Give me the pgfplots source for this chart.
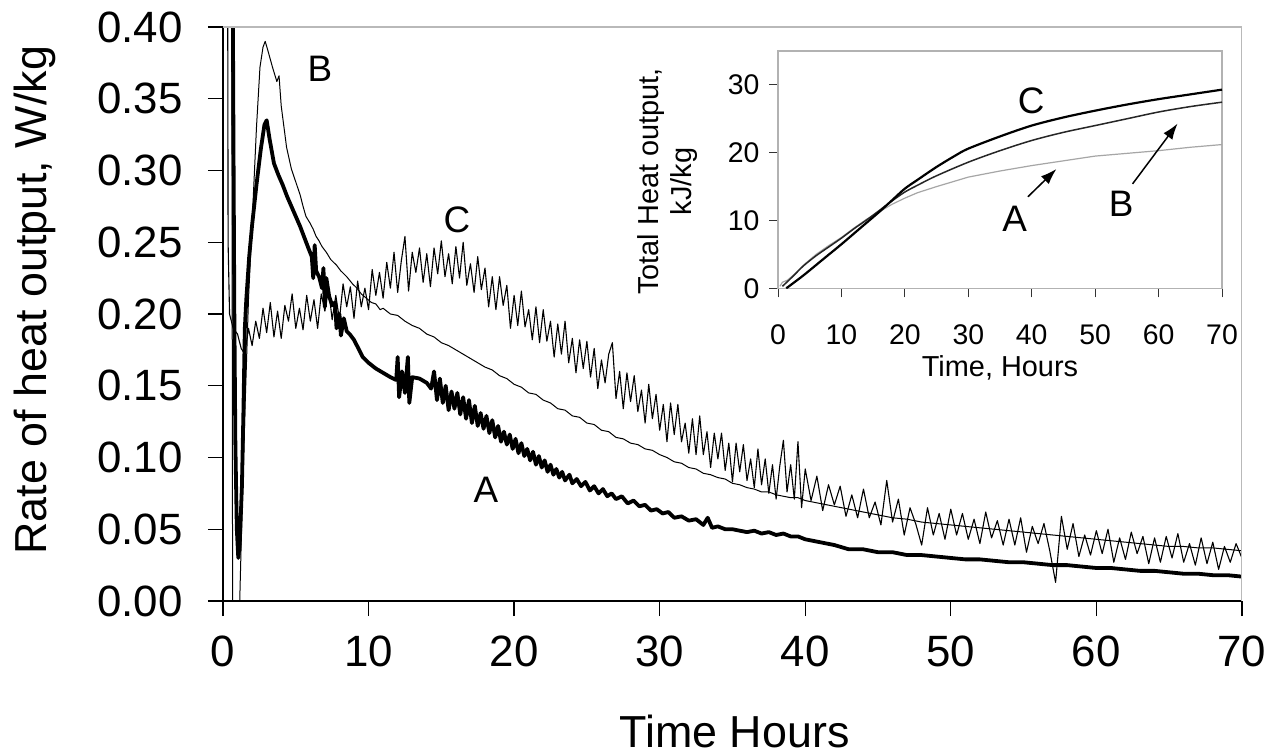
\documentclass[border=0pt]{standalone}
\usepackage{fontspec}
\setmainfont{Liberation Sans}
\usepackage{pgfplots}
\pgfplotsset{compat=1.18}
\usetikzlibrary{arrows.meta}
\begin{document}
\begin{tikzpicture}
\begin{axis}[
  at={(0,0)}, anchor=south west,
  width=1019bp, height=574bp, scale only axis,
  xmin=0, xmax=70, ymin=0, ymax=0.4,
  axis lines*=left,
  axis line style={black, line width=1.3bp},
  xtick={0,10,20,30,40,50,60,70},
  ytick={0,0.05,0.1,0.15,0.2,0.25,0.3,0.35,0.4},
  scaled y ticks=false,
  tick align=outside, major tick length=15bp,
  tick style={black, line width=1.3bp},
  /pgf/number format/assume math mode=true,
  y tick label style={/pgf/number format/fixed, /pgf/number format/fixed zerofill, /pgf/number format/precision=2, xshift=-22bp},
  x tick label style={yshift=-16bp},
  tick label style={font=\fontsize{44}{48}\selectfont},
  xlabel={Time Hours}, ylabel={Rate of heat output, W/kg},
  label style={font=\fontsize{45}{50}\selectfont, inner sep=0pt},
  xlabel style={at={(rel axis cs:0.502,-0.228)}, anchor=center},
  ylabel style={at={(rel axis cs:-0.1845,0.524)}, anchor=center},
]
% C
\addplot[black, line width=1.1bp, line join=round] coordinates {
(0.32,0.45)(0.35,0.25)(0.45,0.20)(0.7,0.19)(1.0,0.186)(1.25,0.176)
(1.5,0.172)(1.75,0.190)(2.0,0.178)(2.25,0.195)(2.5,0.183)(2.75,0.204)(3.0,0.187)(3.25,0.208)(3.5,0.184)(3.75,0.202)(4.0,0.183)(4.25,0.206)(4.5,0.195)(4.75,0.214)(5.0,0.190)(5.25,0.204)(5.5,0.189)(5.75,0.213)(6.0,0.195)(6.25,0.210)(6.5,0.190)(6.75,0.214)(7.0,0.202)(7.25,0.218)(7.5,0.196)(7.75,0.213)(8.0,0.196)(8.25,0.221)(8.5,0.205)(8.75,0.219)(9.0,0.197)(9.25,0.223)(9.5,0.205)(9.75,0.218)(10.0,0.203)
(10.25,0.231)(10.5,0.213)(10.75,0.229)(11.0,0.211)(11.25,0.236)(11.5,0.218)(11.75,0.243)(12.0,0.215)(12.25,0.237)(12.5,0.254)(12.75,0.216)(13.0,0.243)(13.25,0.229)(13.5,0.246)(13.75,0.222)(14.0,0.242)(14.25,0.219)(14.5,0.246)(14.75,0.228)(15.0,0.251)(15.25,0.226)(15.5,0.242)(15.75,0.221)(16.0,0.247)(16.25,0.225)(16.5,0.250)(16.75,0.220)(17.0,0.235)(17.25,0.215)(17.5,0.240)(17.75,0.217)(18.0,0.232)(18.25,0.205)(18.5,0.226)(18.75,0.203)(19.0,0.226)(19.25,0.206)(19.5,0.220)(19.75,0.190)(20.0,0.213)(20.25,0.192)(20.5,0.216)(20.75,0.191)(21.0,0.203)(21.25,0.182)(21.5,0.205)(21.75,0.180)(22.0,0.203)(22.25,0.181)(22.5,0.195)(22.75,0.170)(23.0,0.193)(23.25,0.172)(23.5,0.195)(23.75,0.166)(24.0,0.183)(24.25,0.159)(24.5,0.182)(24.75,0.162)(25.0,0.181)
(25.25,0.156)(25.5,0.176)(25.75,0.148)(26.0,0.168)(26.25,0.152)(26.5,0.172)(26.75,0.180)(27.0,0.141)(27.25,0.160)(27.5,0.134)(27.75,0.159)(28.0,0.139)(28.25,0.157)(28.5,0.132)(28.75,0.147)(29.0,0.124)(29.25,0.151)(29.5,0.127)(29.75,0.144)(30.0,0.119)(30.25,0.137)(30.5,0.111)(30.75,0.138)(31.0,0.116)(31.25,0.137)(31.5,0.111)(31.75,0.124)(32.0,0.103)(32.25,0.127)(32.5,0.102)(32.75,0.129)(33.0,0.102)(33.25,0.118)(33.5,0.093)(33.75,0.117)(34.0,0.099)(34.25,0.117)(34.5,0.091)(34.75,0.110)(35.0,0.083)(35.25,0.110)(35.5,0.090)(35.75,0.109)(36.0,0.084)(36.25,0.099)(36.5,0.079)(36.75,0.106)(37.0,0.081)(37.25,0.099)(37.5,0.075)(37.75,0.095)(38.0,0.071)(38.25,0.094)(38.5,0.112)(38.75,0.076)(39.0,0.095)(39.25,0.071)(39.5,0.111)(39.75,0.065)(40.0,0.092)
(40.4,0.070)(40.8,0.087)(41.2,0.063)(41.6,0.081)(42.0,0.067)(42.4,0.080)(42.8,0.059)(43.2,0.074)(43.6,0.058)(44.0,0.078)(44.4,0.058)(44.8,0.069)(45.2,0.053)(45.6,0.084)(46.0,0.055)(46.4,0.071)(46.8,0.046)(47.2,0.065)(47.6,0.0535)(48.0,0.039)(48.4,0.065)(48.8,0.046)(49.2,0.061)(49.6,0.043)(50.0,0.064)(50.4,0.046)(50.8,0.061)(51.2,0.043)(51.6,0.057)(52.0,0.040)(52.4,0.062)(52.8,0.044)(53.2,0.056)(53.6,0.039)(54.0,0.057)(54.4,0.039)(54.8,0.058)(55.2,0.034)(55.6,0.052)(56.0,0.040)(56.4,0.054)(56.8,0.035)(57.2,0.013)(57.6,0.059)(58.0,0.036)(58.4,0.054)(58.8,0.031)(59.2,0.046)(59.6,0.032)(60.0,0.049)(60.4,0.033)(60.8,0.050)(61.2,0.027)(61.6,0.044)(62.0,0.029)(62.4,0.048)(62.8,0.033)(63.2,0.045)(63.6,0.026)(64.0,0.044)(64.4,0.027)(64.8,0.045)(65.2,0.030)(65.6,0.047)(66.0,0.027)(66.4,0.040)(66.8,0.025)(67.2,0.044)(67.6,0.026)(68.0,0.041)(68.4,0.022)(68.8,0.038)(69.2,0.027)(69.6,0.040)(70.0,0.030)
};
% B
\addplot[black, line width=1.0bp, line join=round] coordinates {
(0.60,0.45)(0.66,0.0)(1.15,0.0)(1.3,0.06)(1.5,0.13)(1.75,0.21)(2.07,0.279)(2.3,0.33)(2.54,0.372)(2.75,0.386)(2.9,0.390)(3.1,0.383)(3.4,0.372)(3.7,0.362)(3.85,0.366)(4.0,0.345)(4.37,0.316)(4.7,0.301)(5.0,0.292)(5.3,0.283)(5.5,0.275)(5.7,0.268)(6.0,0.263)(6.2,0.259)(6.4,0.254)(6.6,0.251)(6.8,0.247)(7.1,0.243)(7.4,0.238)(7.8,0.234)(8.1,0.230)(8.5,0.226)(8.9,0.221)(9.2,0.218)(9.5,0.214)(9.85,0.211)(10.2,0.208)(10.5,0.207)(10.8,0.203)(11.0,0.204)(11.5,0.200)(12.0,0.199)(12.5,0.195)(13.0,0.192)(13.5,0.190)(14.0,0.186)(14.5,0.184)(15.0,0.180)(15.5,0.178)(16.0,0.175)(16.5,0.172)(17.0,0.169)(17.5,0.166)(18.0,0.163)(18.5,0.161)(19.0,0.157)(19.5,0.155)(20.0,0.151)(20.5,0.149)(21.0,0.145)(21.5,0.144)(22.0,0.140)(22.5,0.138)(23.0,0.134)(23.5,0.133)(24.0,0.129)(24.5,0.128)(25.0,0.124)(25.5,0.123)(26.0,0.119)(26.5,0.118)(27.0,0.114)(27.5,0.113)(28.0,0.110)(28.5,0.109)(29.0,0.106)(29.5,0.105)(30.0,0.102)(30.5,0.100)(31.0,0.097)(31.5,0.096)(32.0,0.093)(32.5,0.092)(33.0,0.089)(33.5,0.088)(34.0,0.086)(34.5,0.085)(35.0,0.082)(35.5,0.081)(36.0,0.079)(36.5,0.078)(37.0,0.076)(37.5,0.076)(38.0,0.074)(38.5,0.073)(39.0,0.072)(39.5,0.072)(40.0,0.070)(41,0.068)(42,0.066)(43,0.064)(44,0.062)(45,0.060)(46,0.058)(47,0.057)(48,0.055)(49,0.054)(50,0.053)(51,0.052)(52,0.051)(53,0.050)(54,0.049)(55,0.048)(56,0.047)(57,0.046)(58,0.045)(59,0.044)(60,0.043)(61,0.042)(62,0.041)(63,0.040)(64,0.039)(65,0.038)(66,0.038)(67,0.037)(68,0.037)(69,0.036)(70,0.035)
};
% A
\addplot[black, line width=3.8bp, line join=round] coordinates {
(0.66,0.45)(0.72,0.32)(0.78,0.20)(0.85,0.11)(0.95,0.05)(1.05,0.03)(1.15,0.04)(1.3,0.08)(1.4,0.13)(1.5,0.19)(1.6,0.21)(1.8,0.24)(2.0,0.262)(2.3,0.29)(2.6,0.315)(2.85,0.332)(3.0,0.335)(3.2,0.322)(3.5,0.305)(3.8,0.297)(4.1,0.290)(4.4,0.282)(4.7,0.275)(5.0,0.268)(5.3,0.261)(5.6,0.253)(5.9,0.245)(6.1,0.240)(6.2,0.225)(6.3,0.248)(6.4,0.230)(6.6,0.226)(6.8,0.218)(6.9,0.232)(7.0,0.205)(7.1,0.225)(7.3,0.212)(7.5,0.206)(7.7,0.208)(7.8,0.190)(8.0,0.200)(8.1,0.185)(8.3,0.197)(8.5,0.188)(8.7,0.186)(9.0,0.182)(9.3,0.176)(9.6,0.170)(10.0,0.166)(10.5,0.162)(11.0,0.159)(11.5,0.156)(11.9,0.154)(12.0,0.170)(12.1,0.142)(12.3,0.160)(12.5,0.145)(12.7,0.170)(12.8,0.138)(13.0,0.156)(13.5,0.155)(14.0,0.152)(14.3,0.148)(14.5,0.160)(14.7,0.140)(14.9,0.155)(15.1,0.138)(15.3,0.150)(15.5,0.133)(15.7,0.146)(15.9,0.134)(16.1,0.145)(16.3,0.130)(16.5,0.142)(16.7,0.127)(16.9,0.140)(17.1,0.124)(17.3,0.136)(17.5,0.122)(17.7,0.131)(17.9,0.120)(18.1,0.129)(18.3,0.117)(18.5,0.126)(18.7,0.114)(18.9,0.122)(19.1,0.111)(19.3,0.118)(19.5,0.109)(19.7,0.116)(19.9,0.106)(20.1,0.113)(20.3,0.103)(20.5,0.110)(20.7,0.101)(20.9,0.106)(21.1,0.098)(21.3,0.104)(21.5,0.095)(21.7,0.101)(21.9,0.093)(22.1,0.098)(22.3,0.090)(22.5,0.095)(22.7,0.088)(22.9,0.092)(23.1,0.086)(23.3,0.090)(23.5,0.084)(23.8,0.088)(24.0,0.082)(24.3,0.085)(24.6,0.080)(24.9,0.083)(25.2,0.077)(25.5,0.080)(25.8,0.075)(26.1,0.078)(26.4,0.073)(26.7,0.075)(27.0,0.071)(27.4,0.073)(27.8,0.068)(28.2,0.070)(28.6,0.066)(29.0,0.067)(29.4,0.063)(29.8,0.064)(30.2,0.061)(30.6,0.062)(31.0,0.058)(31.5,0.059)(32.0,0.056)(32.5,0.057)(33.0,0.053)(33.3,0.058)(33.6,0.051)(34.0,0.052)(34.5,0.050)(35.0,0.050)(35.5,0.049)(36.0,0.048)(36.5,0.049)(37.0,0.047)(37.5,0.048)(38.0,0.046)(38.5,0.047)(39.0,0.045)(39.5,0.045)(40.0,0.043)(41,0.041)(42,0.039)(43,0.036)(44,0.036)(45,0.034)(46,0.034)(47,0.032)(48,0.032)(49,0.031)(50,0.030)(51,0.029)(52,0.029)(53,0.028)(54,0.027)(55,0.027)(56,0.026)(57,0.025)(58,0.025)(59,0.024)(60,0.023)(61,0.023)(62,0.022)(63,0.021)(64,0.021)(65,0.020)(66,0.019)(67,0.019)(68,0.018)(69,0.018)(70,0.017)
};
\draw[gray!55, line width=1.5bp] (rel axis cs:0,1) -- (rel axis cs:1,1) -- (rel axis cs:1,0);
\node[font=\fontsize{37}{40}\selectfont] at (axis cs:6.66,0.371) {B};
\node[font=\fontsize{37}{40}\selectfont] at (axis cs:16.07,0.2655) {C};
\node[font=\fontsize{37}{40}\selectfont] at (axis cs:18.06,0.0774) {A};
\end{axis}

\begin{axis}[
  at={(555bp,312.7bp)}, anchor=south west,
  width=444bp, height=237.3bp, scale only axis,
  xmin=0, xmax=70, ymin=0, ymax=35,
  axis background/.style={fill=white},
  axis line style={gray!60, line width=1.3bp},
  xtick={0,10,20,30,40,50,60,70}, ytick={0,10,20,30},
  xtick pos=bottom, ytick pos=left,
  tick align=outside, major tick length=9bp,
  tick style={gray!40!black, line width=1bp},
  /pgf/number format/assume math mode=true,
  tick label style={font=\fontsize{28.5}{32}\selectfont},
  x tick label style={yshift=-24bp},
  y tick label style={xshift=-6bp},
  xlabel={Time, Hours},
  ylabel={Total Heat output,\\kJ/kg},
  label style={font=\fontsize{29}{33}\selectfont},
  ylabel style={align=center, at={(rel axis cs:-0.248,0.45)}, anchor=center},
  xlabel style={at={(rel axis cs:0.5,-0.335)}, anchor=center},
]
\addplot[gray!70, line width=1.2bp] coordinates {
(0.3,0.3)(0.7,0.9)(1.5,1.2)(2.5,2.0)(4,3.4)(6,5.0)(8,6.3)(10,7.5)(12,8.9)(14,10.2)(16,11.3)(18,12.4)(20,13.3)(22,14.1)(25,15.0)(30,16.4)(35,17.3)(40,18.1)(45,18.8)(50,19.5)(55,19.9)(60,20.3)(65,20.8)(70,21.2)
};
\addplot[black!85, line width=1.5bp, smooth] coordinates {
(0.7,0.3)(1.5,1.0)(2.5,1.9)(4,3.3)(6,4.8)(8,6.1)(10,7.4)(12,8.8)(14,10.1)(16,11.5)(18,12.9)(20,14.2)(22,15.2)(25,16.6)(30,18.6)(35,20.3)(40,21.8)(45,23.0)(50,24.0)(55,25.0)(60,26.0)(65,26.8)(70,27.45)
};
\addplot[black, line width=2.2bp, smooth] coordinates {
(1.3,0)(4,1.9)(7,4.2)(10,6.5)(13,8.9)(16,11.3)(18,13.0)(20,14.7)(22,16.0)(25,17.9)(28,19.6)(30,20.6)(35,22.4)(40,24.0)(45,25.2)(50,26.2)(55,27.1)(60,27.9)(65,28.6)(70,29.3)
};
\draw[-{Latex[length=16bp,width=11bp]}, line width=1.5bp] (axis cs:39.4,13.5) -- (axis cs:43.9,17.6);
\draw[-{Latex[length=16bp,width=11bp]}, line width=1.5bp] (axis cs:55.9,15.4) -- (axis cs:63.0,24.3);
\node[font=\fontsize{37}{40}\selectfont] at (axis cs:37.3,10.3) {A};
\node[font=\fontsize{37}{40}\selectfont] at (axis cs:54.1,12.5) {B};
\node[font=\fontsize{37}{40}\selectfont] at (axis cs:39.9,27.7) {C};
\end{axis}
\pgfresetboundingbox
\path (-223bp,-154bp) rectangle (1050bp,601bp);
\end{tikzpicture}
\end{document}
